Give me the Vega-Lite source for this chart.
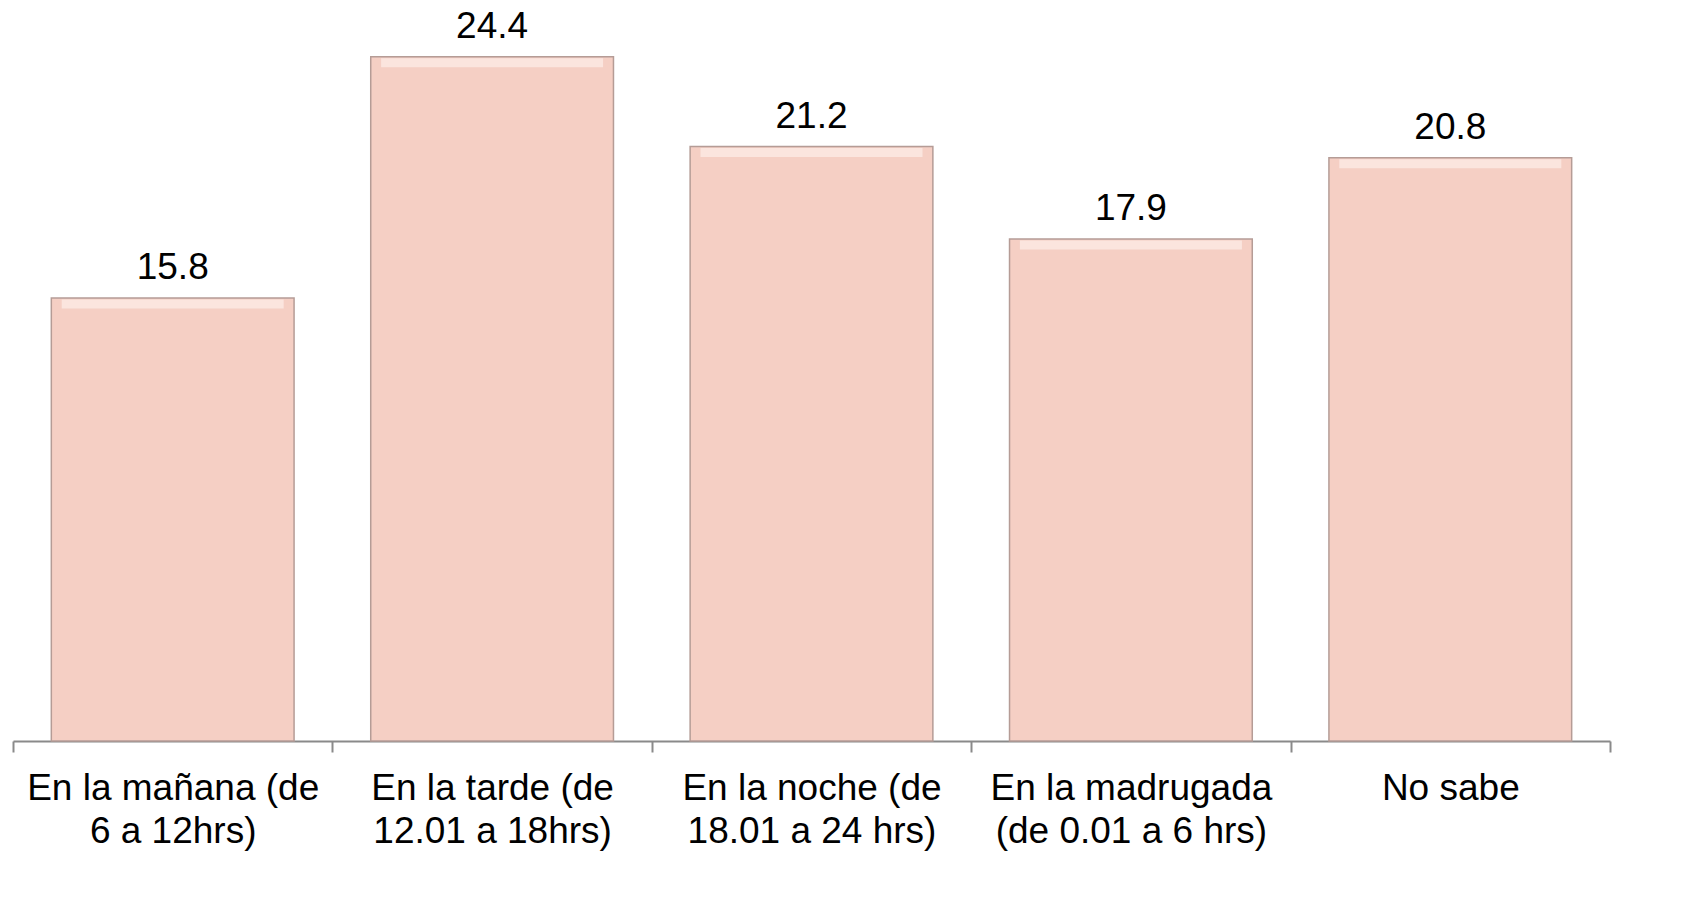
{
  "$schema": "https://vega.github.io/schema/vega-lite/v6.json",
  "width": 1597,
  "height": 729,
  "autosize": {"type": "none"},
  "padding": {"left": 13, "top": 12, "right": 78, "bottom": 180},
  "background": "white",
  "config": {"view": {"stroke": null}, "font": "Liberation Sans"},
  "data": {
    "values": [
      {"periodo": "En la mañana (de 6 a 12hrs)", "pct": 15.8},
      {"periodo": "En la tarde (de 12.01 a 18hrs)", "pct": 24.4},
      {"periodo": "En la noche (de 18.01 a 24 hrs)", "pct": 21.2},
      {"periodo": "En la madrugada (de 0.01 a 6 hrs)", "pct": 17.9},
      {"periodo": "No sabe", "pct": 20.8}
    ]
  },
  "encoding": {
    "x": {
      "field": "periodo",
      "type": "nominal",
      "sort": null,
      "scale": {"paddingInner": 0, "paddingOuter": 0},
      "axis": {
        "title": null,
        "labelAngle": 0,
        "labelFont": "Liberation Sans",
        "labelFontSize": 37,
        "labelColor": "#000000",
        "labelLineHeight": 43,
        "labelPadding": 18,
        "labelLimit": 0,
        "labelOverlap": false,
        "tickSize": 11,
        "tickWidth": 2,
        "tickColor": "#8a8a8a",
        "domainColor": "#8a8a8a",
        "domainWidth": 2,
        "tickBand": "extent",
        "labelExpr": "datum.label == 'En la mañana (de 6 a 12hrs)' ? ['En la mañana (de', '6 a 12hrs)'] : datum.label == 'En la tarde (de 12.01 a 18hrs)' ? ['En la tarde (de', '12.01 a 18hrs)'] : datum.label == 'En la noche (de 18.01 a 24 hrs)' ? ['En la noche (de', '18.01 a 24 hrs)'] : datum.label == 'En la madrugada (de 0.01 a 6 hrs)' ? ['En la madrugada', '(de 0.01 a 6 hrs)'] : datum.label"
      }
    },
    "y": {
      "field": "pct",
      "type": "quantitative",
      "scale": {"domain": [0, 26]},
      "axis": null
    }
  },
  "layer": [
    {
      "mark": {"type": "bar", "width": {"band": 0.76}, "fill": "#F5CFC4", "stroke": "#B59C96", "strokeWidth": 1.5}
    },
    {
      "mark": {"type": "tick", "color": "#FDEEE9", "thickness": 9, "size": 222, "yOffset": 6}
    },
    {
      "mark": {"type": "text", "baseline": "alphabetic", "dy": -19, "fontSize": 37, "font": "Liberation Sans", "color": "#000000"},
      "encoding": {"text": {"field": "pct", "type": "quantitative", "format": ".1f"}}
    }
  ]
}
